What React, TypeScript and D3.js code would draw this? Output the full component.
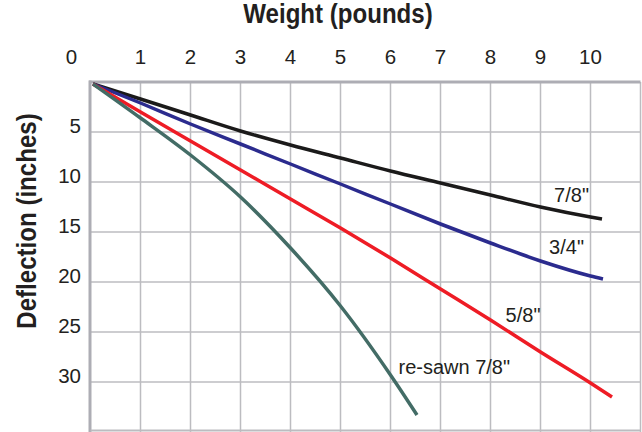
import * as d3 from "d3";
import { useEffect, useRef } from "react";

// weight in pounds -> deflection in inches
const weights = [0, 1, 2, 3, 4, 5, 6, 7, 8, 9, 10];
const sevenEighths = [0, 1.7, 3.3, 4.9, 6.3, 7.6, 8.9, 10.1, 11.3, 12.5, 13.5];
const threeQuarters = [0, 2.1, 4.2, 6.2, 8.2, 10.2, 12.2, 14.2, 16.1, 17.9, 19.4];
const fiveEighths = [0, 3.0, 5.9, 8.8, 11.7, 14.6, 17.6, 20.7, 23.8, 27.0, 30.1];
const resawnWeights = [0, 1, 2, 3, 4, 5, 6, 6.53];
const resawn = [0, 3.6, 7.3, 11.5, 16.6, 22.4, 29.3, 33.3];

// where each line stops
const ends = [
  { w: 10.23, d: 13.7 },
  { w: 10.25, d: 19.7 },
  { w: 10.43, d: 31.5 },
];

const xTicks = [0, 1, 2, 3, 4, 5, 6, 7, 8, 9, 10];
const yTicks = [5, 10, 15, 20, 25, 30];

const series = [
  { name: '7/8"', color: "#1b1a1a", xs: weights, ys: sevenEighths, end: ends[0], lx: 9.97, ly: 12, anchor: "end" },
  { name: '3/4"', color: "#2b2b8e", xs: weights, ys: threeQuarters, end: ends[1], lx: 9.87, ly: 17.15, anchor: "end" },
  { name: '5/8"', color: "#ee1c25", xs: weights, ys: fiveEighths, end: ends[2], lx: 9.0, ly: 24, anchor: "end" },
  { name: 're-sawn 7/8"', color: "#436c66", xs: resawnWeights, ys: resawn, end: null, lx: 6.16, ly: 29.15, anchor: "start" },
];

const width = 642;
const height = 432;
const font = "'Liberation Sans', Arial, sans-serif";

export default function App() {
  const ref = useRef<SVGSVGElement>(null);

  useEffect(() => {
    const svg = d3.select(ref.current);
    svg.selectAll("*").remove();

    const x = d3.scaleLinear().domain([0, 11]).range([90.5, 640.5]);
    const y = d3.scaleLinear().domain([0, 35]).range([82, 432]);

    const grid = svg.append("g");
    grid
      .selectAll("line.v")
      .data(d3.range(1, 12))
      .join("line")
      .attr("x1", (d) => x(d))
      .attr("x2", (d) => x(d))
      .attr("y1", y(0))
      .attr("y2", y(35))
      .attr("stroke", "#bcbcc0")
      .attr("stroke-width", 1.5);
    grid
      .selectAll("line.h")
      .data(yTicks)
      .join("line")
      .attr("x1", x(0))
      .attr("x2", x(11))
      .attr("y1", (d) => y(d))
      .attr("y2", (d) => y(d))
      .attr("stroke", "#bcbcc0")
      .attr("stroke-width", 1.5);

    // frame
    svg
      .append("line")
      .attr("x1", x(0) - 1.5)
      .attr("x2", x(11))
      .attr("y1", y(0))
      .attr("y2", y(0))
      .attr("stroke", "#adadb4")
      .attr("stroke-width", 3);
    svg
      .append("line")
      .attr("x1", x(0) - 0.5)
      .attr("x2", x(0) - 0.5)
      .attr("y1", y(0) - 1.5)
      .attr("y2", y(35))
      .attr("stroke", "#adadb4")
      .attr("stroke-width", 3);
    svg
      .append("line")
      .attr("x1", x(0))
      .attr("x2", x(11))
      .attr("y1", y(35) - 1.5)
      .attr("y2", y(35) - 1.5)
      .attr("stroke", "#bcbcc0")
      .attr("stroke-width", 2);

    // x tick labels on top
    svg
      .append("g")
      .selectAll("text")
      .data(xTicks)
      .join("text")
      .attr("x", (d) => x(d))
      .attr("dx", (d) => (d === 0 ? -19 : 0))
      .attr("y", 64)
      .attr("text-anchor", "middle")
      .attr("font-family", font)
      .attr("font-size", 20.5)
      .attr("fill", "#231f20")
      .text((d) => d);

    // y tick labels
    svg
      .append("g")
      .selectAll("text")
      .data(yTicks)
      .join("text")
      .attr("x", 81)
      .attr("y", (d) => y(d) + 1)
      .attr("text-anchor", "end")
      .attr("font-family", font)
      .attr("font-size", 20.5)
      .attr("fill", "#231f20")
      .text((d) => d);

    svg
      .append("text")
      .attr("transform", "translate(338,23) scale(0.86,1)")
      .attr("text-anchor", "middle")
      .attr("font-family", font)
      .attr("font-weight", "bold")
      .attr("font-size", 28)
      .attr("fill", "#231f20")
      .text("Weight (pounds)");

    svg
      .append("text")
      .attr("transform", "translate(36,221) rotate(-90) scale(0.86,1)")
      .attr("text-anchor", "middle")
      .attr("font-family", font)
      .attr("font-weight", "bold")
      .attr("font-size", 28)
      .attr("fill", "#231f20")
      .text("Deflection (inches)");

    const line = d3
      .line<[number, number]>()
      .x((d) => x(d[0]))
      .y((d) => y(d[1]))
      .curve(d3.curveMonotoneX);

    series.forEach((s) => {
      const pts: [number, number][] = s.xs.map((w, i) => [w, s.ys[i]]);
      pts[0] = [0.05, 0.2];
      if (s.end) pts.push([s.end.w, s.end.d]);
      svg
        .append("path")
        .attr("d", line(pts))
        .attr("fill", "none")
        .attr("stroke", s.color)
        .attr("stroke-width", 3.5);

      svg
        .append("text")
        .attr("x", x(s.lx))
        .attr("y", y(s.ly))
        .attr("text-anchor", s.anchor)
        .attr("font-family", font)
        .attr("font-size", 20)
        .attr("fill", "#231f20")
        .text(s.name);
    });
  }, []);

  return (
    <svg
      ref={ref}
      width={width}
      height={height}
      style={{ position: "absolute", left: 0, top: 0, background: "#fff" }}
    />
  );
}
